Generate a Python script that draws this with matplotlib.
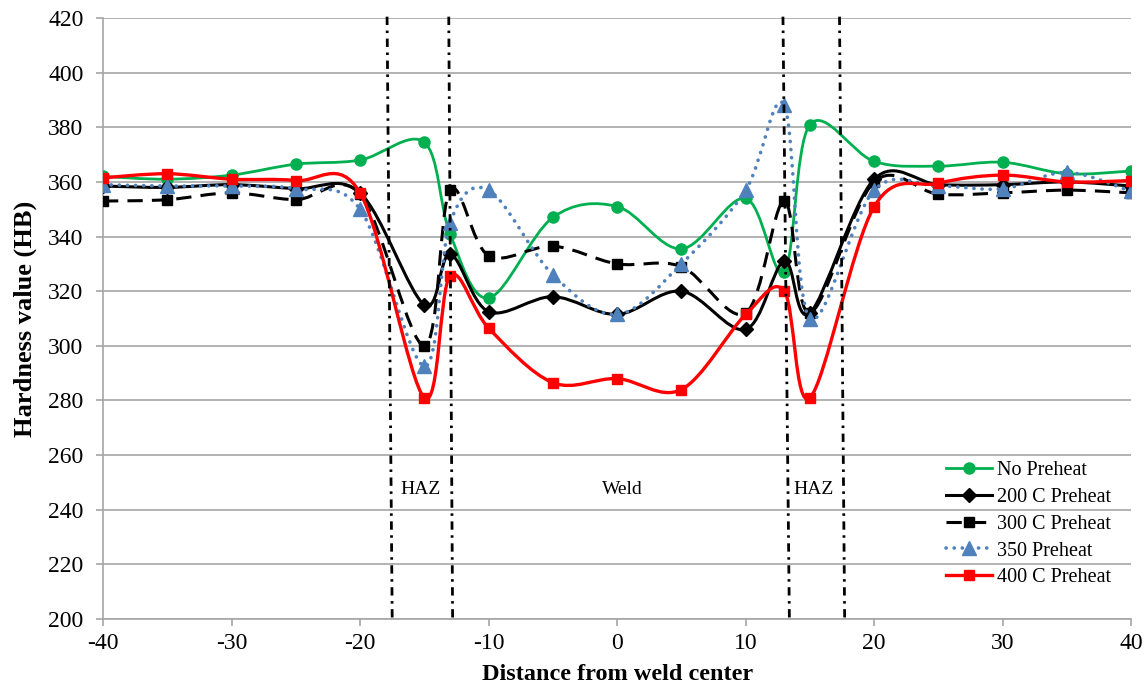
import numpy as np
import matplotlib
matplotlib.use('Agg')
import matplotlib.pyplot as plt
from matplotlib.path import Path
from matplotlib.patches import PathPatch
from matplotlib.lines import Line2D

plt.rcParams['font.family'] = ['Liberation Serif', 'DejaVu Serif']
plt.rcParams['axes.unicode_minus'] = False

# ---------------------------------------------------------------
# data
# ---------------------------------------------------------------
distance = [-40, -35, -30, -25, -20, -15, -13, -10, -5, 0, 5, 10, 13, 15, 20, 25, 30, 35, 40]

no_preheat = [362, 361, 362.5, 366.5, 368, 374.5, 341, 317.5, 347, 351, 335.5, 354, 327, 381, 367.5, 365.8, 367.2, 363, 364]
preheat_200 = [358.5, 358, 359, 357.5, 356, 315, 333.5, 312.5, 318, 311.5, 320, 306, 331, 312, 361, 359, 359, 360, 358.5]
preheat_300 = [353, 353.5, 356, 353.5, 355.5, 300, 357, 333, 336.5, 330, 329, 312, 353, 312, 360, 355.5, 356, 357, 356]
preheat_350 = [359, 358.5, 358.5, 357.5, 350, 292.5, 345, 357, 326, 311.5, 330, 357, 388, 310, 357, 358.5, 357.5, 363.5, 356.5]
preheat_400 = [361.5, 363, 361, 360.5, 356, 281, 325.5, 306.5, 286.5, 288, 284, 311.5, 320, 281, 351, 359.5, 362.5, 360, 360.5]

series_labels = ['No Preheat', '200 C Preheat', '300 C Preheat', '350 Preheat', '400 C Preheat']

# zone boundaries (slightly slanted in the original), top x / bottom x
zone_lines = [(-17.9, -17.5), (-13.1, -12.8), (12.9, 13.4), (17.3, 17.7)]
zone_labels = ['HAZ', 'Weld', 'HAZ']
zone_label_x = [-15.3, 0.4, 15.3]

# ---------------------------------------------------------------
# styles
# ---------------------------------------------------------------
GREEN = '#00B050'
BLUE = '#4F81BD'
RED = '#FF0000'
GRID = '#A6A6A6'

styles = [
    dict(color=GREEN, lw=2.0, ls='-', marker='o', ms=8),
    dict(color='black', lw=2.2, ls='-', marker='D', ms=7),
    dict(color='black', lw=2.2, ls=(0, (5, 3)), marker='s', ms=7.5),
    dict(color=BLUE, lw=2.6, ls=(0, (0.05, 2.2)), marker='^', ms=9.5),
    dict(color=RED, lw=2.4, ls='-', marker='s', ms=7.5),
]


def smooth_path(x, y):
    # Catmull-Rom style bezier, like the Excel "smoothed line"
    pts = np.column_stack([x, y]).astype(float)
    n = len(pts)
    verts = [pts[0]]
    codes = [Path.MOVETO]
    for i in range(n - 1):
        p0 = pts[i - 1] if i > 0 else pts[i]
        p1 = pts[i]
        p2 = pts[i + 1]
        p3 = pts[i + 2] if i + 2 < n else pts[i + 1]
        c1 = p1 + (p2 - p0) / 6.0
        c2 = p2 - (p3 - p1) / 6.0
        verts += [c1, c2, p2]
        codes += [Path.CURVE4] * 3
    return Path(verts, codes)


fig = plt.figure(figsize=(11.47, 6.86), dpi=100)
ax = fig.add_axes([0.0898, 0.0977, 0.8965, 0.876])

all_series = [no_preheat, preheat_200, preheat_300, preheat_350, preheat_400]
handles = []
for k, (vals, st) in enumerate(zip(all_series, styles)):
    patch = PathPatch(smooth_path(distance, vals), fill=False, edgecolor=st['color'],
                      linewidth=st['lw'], linestyle=st['ls'], zorder=3 + k)
    if k == 3:
        patch.set_capstyle('round')
    ax.add_patch(patch)
    ax.plot(distance, vals, linestyle='none', marker=st['marker'], ms=st['ms'],
            color=st['color'], zorder=3.5 + k)
    h = Line2D([], [], color=st['color'], lw=st['lw'], linestyle=st['ls'],
               marker=st['marker'], ms=st['ms'], dash_capstyle='round' if k == 3 else 'butt')
    handles.append(h)

# zone boundary lines
for xt, xb in zone_lines:
    ax.plot([xt, xb], [420.5, 200], color='black', lw=2.0,
            linestyle=(0, (3.0, 2.0, 0.9, 2.0)), zorder=10, clip_on=False)

for lab, xl in zip(zone_labels, zone_label_x):
    ax.text(xl, 247.5, lab, ha='center', va='center', fontsize=14)

ax.set_xlim(-40, 40)
ax.set_ylim(200, 420)
ax.set_xticks(np.arange(-40, 41, 10))
ax.set_yticks(np.arange(200, 421, 20))
ax.grid(axis='y', color=GRID, lw=1.2)
ax.set_axisbelow(True)
for s in ['top', 'right']:
    ax.spines[s].set_visible(False)
for s in ['left', 'bottom']:
    ax.spines[s].set_color(GRID)
    ax.spines[s].set_linewidth(1.2)
ax.tick_params(axis='both', colors=GRID, labelcolor='black', labelsize=17, length=5, width=1.2)
ax.tick_params(axis='y', pad=9)
ax.tick_params(axis='x', pad=5)

ax.set_xlabel('Distance from weld center', fontsize=17.5, fontweight='bold', labelpad=7)
ax.set_ylabel('Hardness value (HB)', fontsize=19, fontweight='bold', labelpad=8)

ax.legend(handles, series_labels, loc='upper left', bbox_to_anchor=(0.812, 0.276),
          frameon=False, fontsize=14.5, handlelength=2.3, handletextpad=0.25,
          labelspacing=0.38, borderaxespad=0)

plt.savefig('out.png', dpi=100)
